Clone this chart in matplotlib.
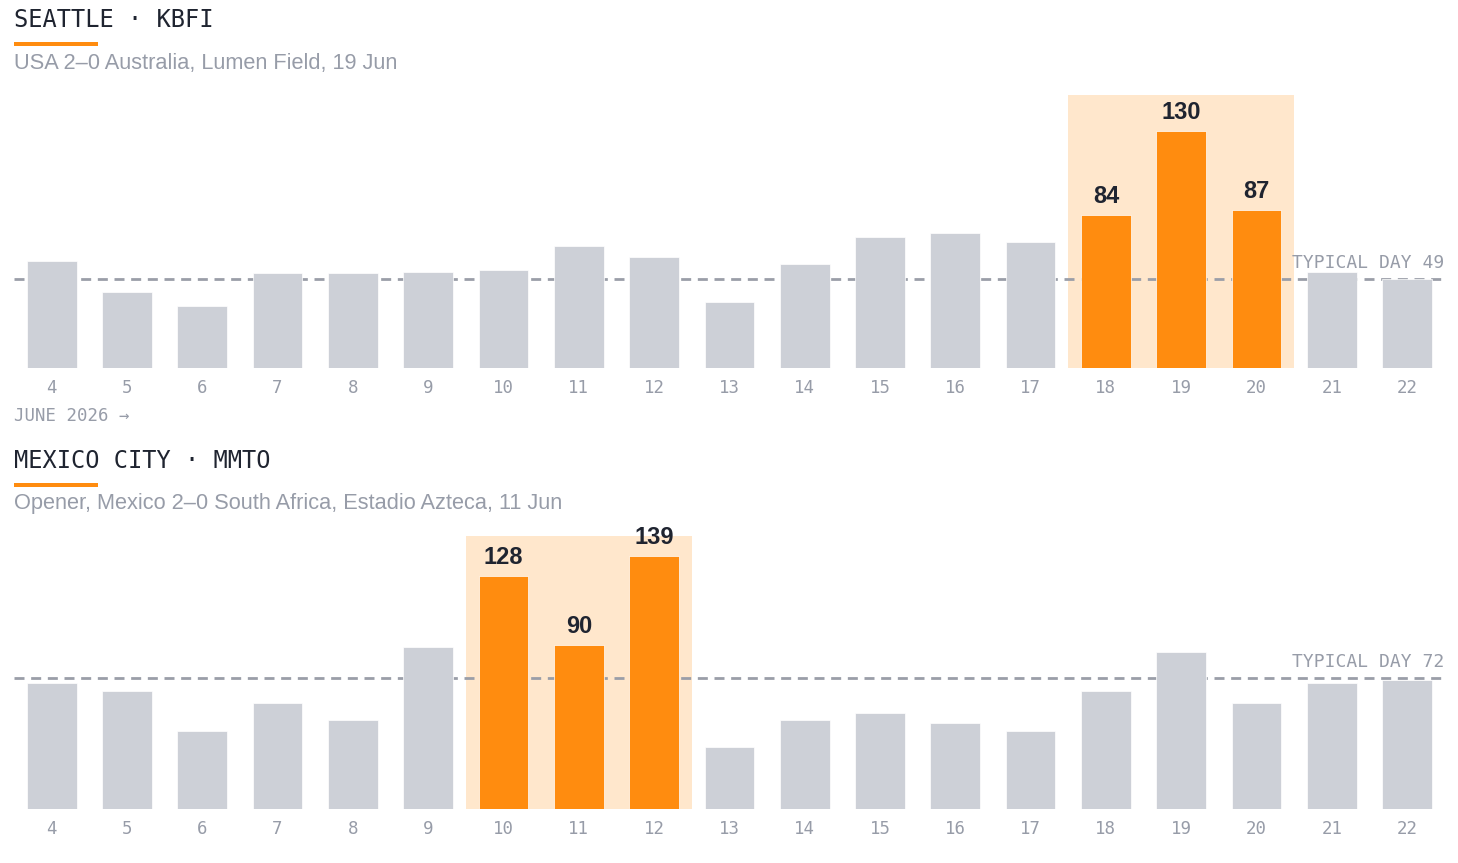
import matplotlib
matplotlib.use('Agg')
import matplotlib.pyplot as plt
from matplotlib.patches import Rectangle

# data
days = [4, 5, 6, 7, 8, 9, 10, 11, 12, 13, 14, 15, 16, 17, 18, 19, 20, 21, 22]
seattle_vals = [59, 42, 34, 52, 52, 53, 54, 67, 61, 36, 57, 72, 74, 69, 84, 130, 87, 53, 49]
mexico_vals = [69, 65, 43, 58, 49, 89, 128, 90, 139, 34, 49, 53, 47, 43, 65, 86, 58, 69, 71]
seattle_hl = [18, 19, 20]
mexico_hl = [10, 11, 12]
seattle_typ = 49
mexico_typ = 72
titles = ['SEATTLE · KBFI', 'MEXICO CITY · MMTO']
subtitles = ['USA 2–0 Australia, Lumen Field, 19 Jun',
             'Opener, Mexico 2–0 South Africa, Estadio Azteca, 11 Jun']

GRAY = '#CDD0D7'
ORANGE = '#FF8C0F'
HL = '#FFE7CC'
DARK = '#1F2430'
MUTED = '#979CA8'
MONO = 'DejaVu Sans Mono'
SANS = 'Liberation Sans'

W, H = 1458, 863
fig = plt.figure(figsize=(W / 100, H / 100), dpi=100)


def fx(px):
    return px / W


def fy(py):
    return 1 - py / H


def panel(top_px, vals, hl, typ, title, subtitle, show_month):
    # header
    fig.text(fx(14), fy(top_px - 75), title, family=MONO, fontsize=17,
             color=DARK, va='center', ha='left')
    fig.add_artist(Rectangle((fx(14), fy(top_px - 49)), fx(84), 4 / H,
                             transform=fig.transFigure, color=ORANGE, lw=0))
    fig.text(fx(14), fy(top_px - 32), subtitle, family=SANS, fontsize=15.7,
             color=MUTED, va='center', ha='left')

    ax = fig.add_axes([fx(14), fy(top_px + 273), fx(1430), 273 / H])
    ax.set_xlim(3.5, 22.49)
    ax.set_ylim(0, 150)
    ax.axvspan(min(hl) - 0.5, max(hl) + 0.5, color=HL, lw=0, zorder=0)
    colors = [ORANGE if d in hl else GRAY for d in days]
    ax.bar(days, vals, width=0.66, color=colors, edgecolor='white',
           linewidth=0.5, zorder=3)
    ax.axhline(typ, color='#9A9EA8', lw=2, dashes=(3.6, 2.4), zorder=2)
    ax.annotate('TYPICAL DAY %d' % typ, xy=(1, typ),
                xycoords=('axes fraction', 'data'), xytext=(0, 5),
                textcoords='offset points', ha='right', va='bottom',
                family=MONO, fontsize=13, color=MUTED, zorder=1)
    for d, v in zip(days, vals):
        if d in hl:
            ax.annotate(str(v), xy=(d, v), xytext=(0, 5),
                        textcoords='offset points', ha='center', va='bottom',
                        family=SANS, fontsize=17, fontweight='bold',
                        color=DARK, zorder=4)
    ax.set_xticks(days)
    ax.set_xticklabels([str(d) for d in days], family=MONO, fontsize=12.5,
                       color=MUTED)
    ax.tick_params(axis='x', length=0, pad=8)
    ax.set_yticks([])
    for s in ax.spines.values():
        s.set_visible(False)
    ax.patch.set_alpha(0)
    if show_month:
        fig.text(fx(14), fy(top_px + 321), 'JUNE 2026 →', family=MONO,
                 fontsize=12.5, color=MUTED, va='center', ha='left')
    return ax


panel(95, seattle_vals, seattle_hl, seattle_typ, titles[0], subtitles[0], True)
panel(536, mexico_vals, mexico_hl, mexico_typ, titles[1], subtitles[1], False)

fig.savefig('out.png', dpi=100, facecolor='white')
